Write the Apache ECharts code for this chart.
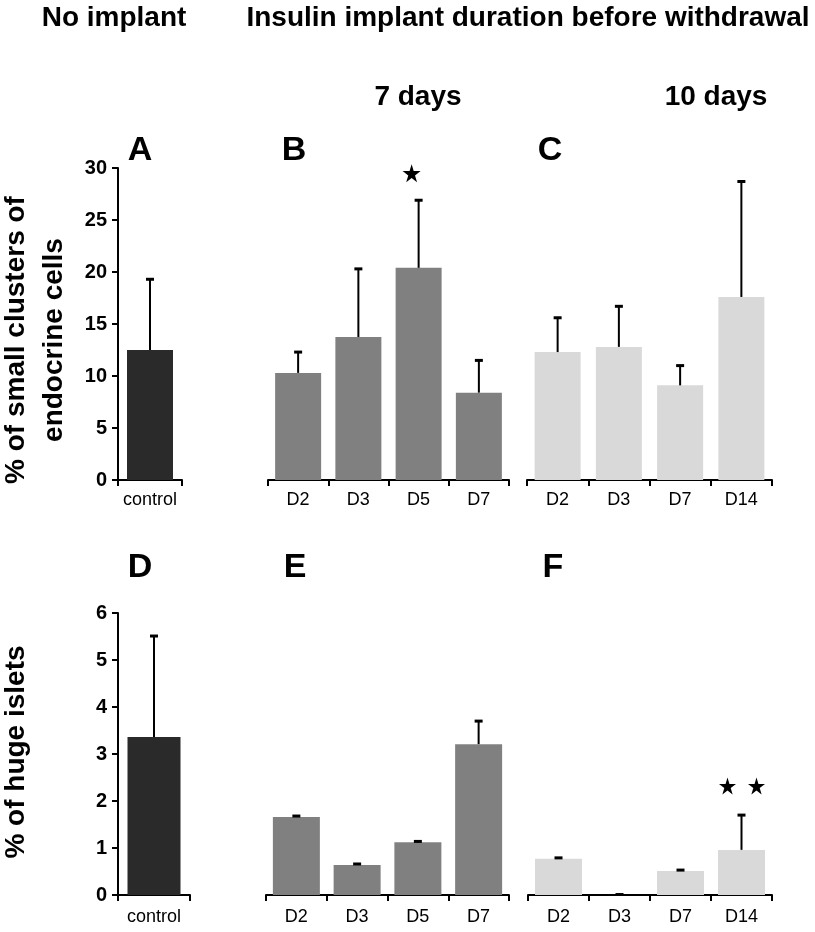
<!DOCTYPE html>
<html>
<head>
<meta charset="utf-8">
<script src="https://cdn.jsdelivr.net/npm/echarts@6/dist/echarts.min.js"></script>
<style>
  html, body { margin: 0; padding: 0; background: #fff; }
  #main { width: 815px; height: 932px; }
</style>
</head>
<body>
<div id="main"></div>
<script>
// categories
var ctrlCats = ['control'];
var days7Cats = ['D2', 'D3', 'D5', 'D7'];
var days10Cats = ['D2', 'D3', 'D7', 'D14'];

// % of small clusters of endocrine cells (mean, top of error bar)
var clustersCtrl = [12.5];
var clustersCtrlErr = [19.3];
var clusters7 = [10.3, 13.75, 20.4, 8.4];
var clusters7Err = [12.3, 20.3, 26.9, 11.5];
var clusters10 = [12.3, 12.8, 9.1, 17.6];
var clusters10Err = [15.6, 16.7, 11.0, 28.7];

// % of huge islets
var hugeCtrl = [3.36];
var hugeCtrlErr = [5.51];
var huge7 = [1.66, 0.64, 1.12, 3.21];
var huge7Err = [1.68, 0.66, 1.14, 3.70];
var huge10 = [0.77, 0, 0.51, 0.96];
var huge10Err = [0.79, 0.01, 0.53, 1.70];

// significance stars [category, y]
var starsB = [['D5', 29.5]];
var starsF = [['D14', 2.32], ['D14', 2.32]];

// y axis ticks
var clustersTicks = { min: 0, max: 30, interval: 5 };
var hugeTicks = { min: 0, max: 6, interval: 1 };

var FONT = "'Liberation Sans', Arial, sans-serif";
var DARK = '#2a2a2a', MID = '#808080', LIGHT = '#d9d9d9';
var STAR = 'path://M50,0 L61,35 L98,35 L68,57 L79,91 L50,70 L21,91 L32,57 L2,35 L39,35 Z';

var myChart = echarts.init(document.getElementById('main'));

var grids = [
    { left: 118, top: 168, width: 64, height: 312 },
    { left: 268, top: 168, width: 241, height: 312 },
    { left: 527, top: 168, width: 245, height: 312 },
    { left: 118, top: 613, width: 72, height: 282 },
    { left: 266, top: 613, width: 243, height: 282 },
    { left: 528, top: 613, width: 244, height: 282 }
];

var panels = [
    { cats: ctrlCats, vals: clustersCtrl, err: clustersCtrlErr, color: DARK, ticks: clustersTicks, showY: true, bw: 46, lm: 11 },
    { cats: days7Cats, vals: clusters7, err: clusters7Err, color: MID, ticks: clustersTicks, showY: false, bw: 46, lm: 11 },
    { cats: days10Cats, vals: clusters10, err: clusters10Err, color: LIGHT, ticks: clustersTicks, showY: false, bw: 46, lm: 11 },
    { cats: ctrlCats, vals: hugeCtrl, err: hugeCtrlErr, color: DARK, ticks: hugeTicks, showY: true, bw: 53, lm: 13 },
    { cats: days7Cats, vals: huge7, err: huge7Err, color: MID, ticks: hugeTicks, showY: false, bw: 47, lm: 13 },
    { cats: days10Cats, vals: huge10, err: huge10Err, color: LIGHT, ticks: hugeTicks, showY: false, bw: 47, lm: 13 }
];

function errorBar(params, api) {
    var lo = api.coord([api.value(0), api.value(1)]);
    var hi = api.coord([api.value(0), api.value(2)]);
    return {
        type: 'group',
        children: [
            { type: 'line', shape: { x1: lo[0], y1: lo[1], x2: hi[0], y2: hi[1] }, style: { stroke: '#000', lineWidth: 2 } },
            { type: 'line', shape: { x1: hi[0] - 4, y1: hi[1], x2: hi[0] + 4, y2: hi[1] }, style: { stroke: '#000', lineWidth: 3 } }
        ]
    };
}

var xAxes = [], yAxes = [], series = [];
panels.forEach(function (p, i) {
    xAxes.push({
        type: 'category', gridIndex: i, data: p.cats,
        axisLine: { lineStyle: { color: '#000', width: 2 } },
        axisTick: { show: true, length: 6, lineStyle: { color: '#000', width: 2 } },
        axisLabel: { color: '#000', fontFamily: FONT, fontSize: 18, margin: p.lm }
    });
    yAxes.push({
        type: 'value', gridIndex: i, min: p.ticks.min, max: p.ticks.max, interval: p.ticks.interval,
        show: p.showY,
        splitLine: { show: false },
        axisLine: { show: true, lineStyle: { color: '#000', width: 2 } },
        axisTick: { show: true, length: 6, lineStyle: { color: '#000', width: 2 } },
        axisLabel: { color: '#000', fontFamily: FONT, fontSize: 20, fontWeight: 'bold', margin: 11 }
    });
    series.push({
        type: 'bar', xAxisIndex: i, yAxisIndex: i, data: p.vals, barWidth: p.bw,
        itemStyle: { color: p.color }, silent: true
    });
    series.push({
        type: 'custom', xAxisIndex: i, yAxisIndex: i, z: 3, silent: true,
        renderItem: errorBar,
        encode: { x: 0, y: [1, 2] },
        data: p.vals.map(function (v, k) { return [k, v, p.err[k]]; })
    });
});

series.push({
    type: 'scatter', xAxisIndex: 1, yAxisIndex: 1, symbol: STAR, symbolSize: 18,
    symbolOffset: [-7, 0], itemStyle: { color: '#000', opacity: 1 }, silent: true, data: starsB
});
series.push({
    type: 'scatter', xAxisIndex: 5, yAxisIndex: 5, symbol: STAR, symbolSize: 17,
    itemStyle: { color: '#000', opacity: 1 }, silent: true,
    data: starsF.map(function (s, k) {
        return { value: s, symbolOffset: [k === 0 ? -14 : 15, 0] };
    })
});

function txt(s, x, y, size, rot) {
    return {
        type: 'text', x: x, y: y, rotation: rot || 0,
        style: {
            text: s, fill: '#000', font: 'bold ' + size + 'px ' + FONT,
            align: 'center', verticalAlign: 'middle', lineHeight: 38
        }
    };
}

var option = {
    animation: false,
    backgroundColor: '#fff',
    grid: grids,
    xAxis: xAxes,
    yAxis: yAxes,
    series: series,
    graphic: [
        txt('No implant', 114, 18, 28),
        txt('Insulin implant duration before withdrawal', 528, 18, 28),
        txt('7 days', 418, 97, 28),
        txt('10 days', 716, 97, 28),
        txt('A', 140, 151, 34),
        txt('B', 294, 151, 34),
        txt('C', 550, 151, 34),
        txt('D', 140, 568, 34),
        txt('E', 295, 568, 34),
        txt('F', 553, 568, 34),
        txt('% of small clusters of\nendocrine cells', 35, 340, 28, Math.PI / 2),
        txt('% of huge islets', 16, 752, 28, Math.PI / 2)
    ]
};

myChart.setOption(option);
</script>
</body>
</html>
